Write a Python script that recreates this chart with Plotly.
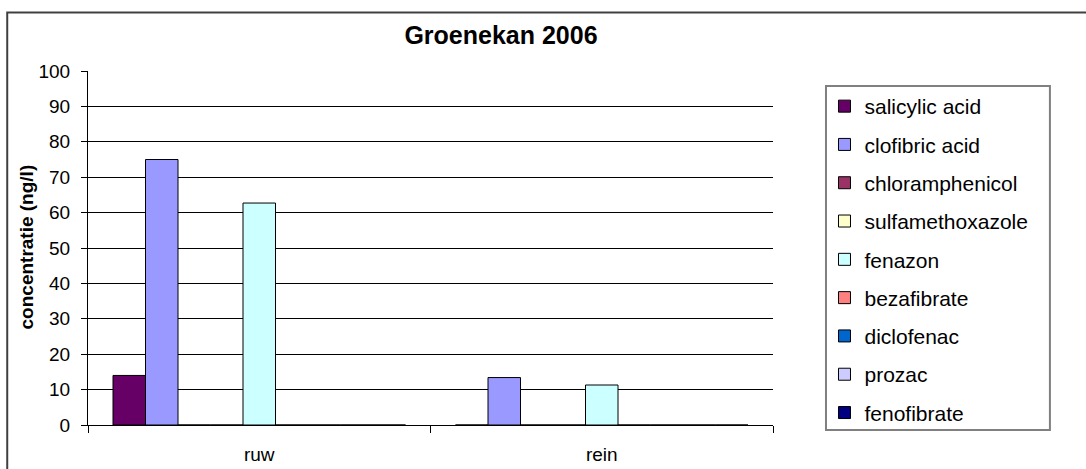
import plotly.graph_objects as go

categories = ["ruw", "rein"]
series_names = ["salicylic acid", "clofibric acid", "chloramphenicol", "sulfamethoxazole",
                "fenazon", "bezafibrate", "diclofenac", "prozac", "fenofibrate"]
salicylic_acid = [14, 0]
clofibric_acid = [75, 13.4]
chloramphenicol = [0, 0]
sulfamethoxazole = [0, 0]
fenazon = [62.7, 11.3]
bezafibrate = [0, 0]
diclofenac = [0, 0]
prozac = [0, 0]
fenofibrate = [0, 0]
values = [salicylic_acid, clofibric_acid, chloramphenicol, sulfamethoxazole,
          fenazon, bezafibrate, diclofenac, prozac, fenofibrate]
colors = ["#660066", "#9999FF", "#993366", "#FFFFCC", "#CCFFFF",
          "#FF8080", "#0066CC", "#CCCCFF", "#000080"]
y_ticks = [0, 10, 20, 30, 40, 50, 60, 70, 80, 90, 100]

FONT = "Liberation Sans, Arial, sans-serif"

fig = go.Figure()
for name, vals, col in zip(series_names, values, colors):
    fig.add_trace(go.Bar(
        x=categories, y=vals, name=name, legendgroup=name,
        marker=dict(color=col, line=dict(color="black", width=1)),
    ))

W, H = 1086, 469
L, R, T, B = 88.3, 773.5, 71.0, 425.5
pw, ph = R - L, B - T


def px_x(v):
    return (v - L) / pw


def px_y(v):
    return (B - v) / ph


fig.update_layout(
    width=W, height=H,
    margin=dict(l=L, r=W - R, t=T, b=H - B, pad=0, autoexpand=False),
    paper_bgcolor="white", plot_bgcolor="white",
    barmode="group", bargap=0.146, bargroupgap=0,
    font=dict(family=FONT, size=19, color="black"),
    title=dict(text="<b>Groenekan 2006</b>", x=501 / W, xanchor="center",
               y=1 - 35 / H, yanchor="middle", xref="container", yref="container",
               font=dict(family=FONT, size=25, color="black")),
    showlegend=True,
    legend=dict(
        x=px_x(825), xanchor="left", y=px_y(86), yanchor="top",
        borderwidth=0, bgcolor="rgba(0,0,0,0)",
        traceorder="grouped", tracegroupgap=8,
        font=dict(family=FONT, size=21, color="black"),
        itemwidth=30, maxheight=420,
    ),
    xaxis=dict(
        automargin=False,
        showgrid=False, showline=True, linecolor="black", linewidth=1,
        ticks="outside", tickson="boundaries", ticklen=7, tickcolor="black",
        ticklabelstandoff=12, tickfont=dict(family=FONT, size=19),
    ),
    yaxis=dict(
        automargin=False,
        range=[0, 100], tickvals=y_ticks, showgrid=True, gridcolor="black", gridwidth=1,
        showline=True, linecolor="black", linewidth=1, zeroline=False,
        ticks="outside", ticklen=6, tickcolor="black",
        ticklabelstandoff=7, tickfont=dict(family=FONT, size=19),
    ),
    annotations=[dict(
        text="<b>concentratie (ng/l)</b>", textangle=-90, showarrow=False,
        xref="paper", yref="paper", x=px_x(27), y=px_y(247), xanchor="center", yanchor="middle",
        font=dict(family=FONT, size=19, color="black"),
    )],
    shapes=[
        dict(type="rect", xref="paper", yref="paper",
             x0=px_x(7.5), x1=px_x(1100), y0=px_y(490), y1=px_y(12.5),
             line=dict(color="#404040", width=2), fillcolor="rgba(0,0,0,0)", layer="below"),
        dict(type="rect", xref="paper", yref="paper",
             x0=px_x(826.5), x1=px_x(1050.5), y0=px_y(430.5), y1=px_y(86),
             line=dict(color="#808080", width=2), fillcolor="rgba(0,0,0,0)", layer="below"),
    ],
)

fig.write_html("out.html", config={"displayModeBar": False},
               post_script="document.body.style.margin='0px';")
